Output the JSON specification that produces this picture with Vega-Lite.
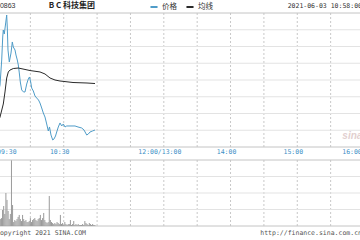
{
  "$schema": "https://vega.github.io/schema/vega-lite/v6.json",
  "width": 360,
  "height": 240,
  "autosize": {"type": "none"},
  "padding": 0,
  "background": "white",
  "config": {
    "view": {"stroke": null},
    "axis": {"labels": false, "ticks": false, "domain": false, "grid": false, "title": null},
    "legend": {"orient": "none", "legendX": 149, "legendY": 2, "direction": "horizontal", "padding": 0, "symbolType": "stroke", "symbolSize": 50, "symbolStrokeWidth": 2, "labelFont": "Noto Sans CJK SC", "labelFontSize": 7.5, "labelColor": "#333", "columnPadding": 5, "labelOffset": 3, "title": null}
  },
  "datasets": {
    "price": [
      {"t": 0, "p": 18.185, "s": "价格"}, {"t": 2.7, "p": 18.34, "s": "价格"}, {"t": 4.23, "p": 18.639, "s": "价格"},
      {"t": 5.13, "p": 18.913, "s": "价格"}, {"t": 5.66, "p": 18.997, "s": "价格"}, {"t": 6.56, "p": 18.949, "s": "价格"},
      {"t": 7.82, "p": 19.081, "s": "价格"}, {"t": 8.72, "p": 19.176, "s": "价格"}, {"t": 9.26, "p": 19.021, "s": "价格"},
      {"t": 9.89, "p": 18.758, "s": "价格"}, {"t": 11.06, "p": 18.615, "s": "价格"}, {"t": 12.59, "p": 18.722, "s": "价格"},
      {"t": 13.76, "p": 18.854, "s": "价格"}, {"t": 14.66, "p": 18.794, "s": "价格"}, {"t": 16.19, "p": 18.758, "s": "价格"},
      {"t": 17.08, "p": 18.698, "s": "价格"}, {"t": 18.25, "p": 18.639, "s": "价格"}, {"t": 19.15, "p": 18.579, "s": "价格"},
      {"t": 20.05, "p": 18.484, "s": "价格"}, {"t": 20.95, "p": 18.376, "s": "价格"}, {"t": 22.21, "p": 18.281, "s": "价格"},
      {"t": 23.83, "p": 18.257, "s": "价格"}, {"t": 25.18, "p": 18.257, "s": "价格"}, {"t": 26.71, "p": 18.352, "s": "价格"},
      {"t": 28.14, "p": 18.412, "s": "价格"}, {"t": 29.22, "p": 18.436, "s": "价格"}, {"t": 30.3, "p": 18.376, "s": "价格"},
      {"t": 31.2, "p": 18.304, "s": "价格"}, {"t": 32.64, "p": 18.269, "s": "价格"}, {"t": 34.17, "p": 18.209, "s": "价格"},
      {"t": 35.7, "p": 18.185, "s": "价格"}, {"t": 37.32, "p": 18.161, "s": "价格"}, {"t": 38.66, "p": 18.125, "s": "价格"},
      {"t": 40.19, "p": 18.066, "s": "价格"}, {"t": 41.63, "p": 18.006, "s": "价格"}, {"t": 43.16, "p": 17.958, "s": "价格"},
      {"t": 44.69, "p": 17.875, "s": "价格"}, {"t": 46.13, "p": 17.791, "s": "价格"}, {"t": 47.21, "p": 17.839, "s": "价格"},
      {"t": 48.56, "p": 17.743, "s": "价格"}, {"t": 50.09, "p": 17.684, "s": "价格"}, {"t": 51.26, "p": 17.696, "s": "价格"},
      {"t": 52.61, "p": 17.731, "s": "价格"}, {"t": 53.69, "p": 17.779, "s": "价格"}, {"t": 55.12, "p": 17.839, "s": "价格"},
      {"t": 56.65, "p": 17.887, "s": "价格"}, {"t": 58.18, "p": 17.851, "s": "价格"}, {"t": 59.62, "p": 17.875, "s": "价格"},
      {"t": 61.15, "p": 17.839, "s": "价格"}, {"t": 62.68, "p": 17.851, "s": "价格"}, {"t": 64.75, "p": 17.851, "s": "价格"},
      {"t": 67.45, "p": 17.851, "s": "价格"}, {"t": 70.14, "p": 17.851, "s": "价格"}, {"t": 72.84, "p": 17.839, "s": "价格"},
      {"t": 76.16, "p": 17.827, "s": "价格"}, {"t": 78.23, "p": 17.803, "s": "价格"}, {"t": 80.66, "p": 17.743, "s": "价格"},
      {"t": 82.1, "p": 17.755, "s": "价格"}, {"t": 83.63, "p": 17.779, "s": "价格"}, {"t": 85.87, "p": 17.791, "s": "价格"},
      {"t": 88.12, "p": 17.803, "s": "价格"},
      {"t": 0, "p": 17.863, "s": "均线"}, {"t": 2.7, "p": 17.958, "s": "均线"}, {"t": 5.66, "p": 18.113, "s": "均线"},
      {"t": 7.19, "p": 18.257, "s": "均线"}, {"t": 8.72, "p": 18.424, "s": "均线"}, {"t": 10.16, "p": 18.496, "s": "均线"},
      {"t": 11.69, "p": 18.519, "s": "均线"}, {"t": 14.66, "p": 18.537, "s": "均线"}, {"t": 19.15, "p": 18.543, "s": "均线"},
      {"t": 23.38, "p": 18.531, "s": "均线"}, {"t": 29.67, "p": 18.513, "s": "均线"}, {"t": 38.66, "p": 18.496, "s": "均线"},
      {"t": 43.16, "p": 18.472, "s": "均线"}, {"t": 47.66, "p": 18.424, "s": "均线"}, {"t": 52.16, "p": 18.4, "s": "均线"},
      {"t": 56.65, "p": 18.388, "s": "均线"}, {"t": 68.34, "p": 18.37, "s": "均线"}, {"t": 80.93, "p": 18.364, "s": "均线"},
      {"t": 88.12, "p": 18.358, "s": "均线"}
    ],
    "vol": [
      {"t": 0, "v": 158}, {"t": 1, "v": 97}, {"t": 2, "v": 67}, {"t": 3, "v": 42}, {"t": 4, "v": 48}, {"t": 5, "v": 97},
      {"t": 6, "v": 121}, {"t": 7, "v": 73}, {"t": 8, "v": 200}, {"t": 9, "v": 158}, {"t": 10, "v": 91}, {"t": 11, "v": 42},
      {"t": 12, "v": 73}, {"t": 13, "v": 398}, {"t": 14, "v": 127}, {"t": 15, "v": 24}, {"t": 16, "v": 36}, {"t": 17, "v": 30},
      {"t": 18, "v": 42}, {"t": 19, "v": 55}, {"t": 20, "v": 67}, {"t": 21, "v": 42}, {"t": 22, "v": 30}, {"t": 23, "v": 67},
      {"t": 24, "v": 42}, {"t": 25, "v": 30}, {"t": 26, "v": 36}, {"t": 27, "v": 24}, {"t": 28, "v": 24}, {"t": 29, "v": 30},
      {"t": 30, "v": 48}, {"t": 31, "v": 24}, {"t": 32, "v": 36}, {"t": 33, "v": 42}, {"t": 34, "v": 48}, {"t": 35, "v": 36},
      {"t": 36, "v": 30}, {"t": 37, "v": 42}, {"t": 38, "v": 48}, {"t": 39, "v": 67}, {"t": 40, "v": 36}, {"t": 41, "v": 48},
      {"t": 42, "v": 79}, {"t": 43, "v": 36}, {"t": 44, "v": 24}, {"t": 45, "v": 18}, {"t": 46, "v": 24}, {"t": 47, "v": 182},
      {"t": 48, "v": 36}, {"t": 49, "v": 24}, {"t": 50, "v": 18}, {"t": 51, "v": 12}, {"t": 52, "v": 18}, {"t": 53, "v": 12},
      {"t": 54, "v": 24}, {"t": 55, "v": 18}, {"t": 56, "v": 12}, {"t": 57, "v": 67}, {"t": 58, "v": 12}, {"t": 59, "v": 18},
      {"t": 60, "v": 6}, {"t": 61, "v": 24}, {"t": 62, "v": 12}, {"t": 63, "v": 6}, {"t": 64, "v": 12}, {"t": 65, "v": 12},
      {"t": 66, "v": 36}, {"t": 67, "v": 6}, {"t": 68, "v": 12}, {"t": 69, "v": 30}, {"t": 70, "v": 6}, {"t": 71, "v": 12},
      {"t": 72, "v": 6}, {"t": 73, "v": 12}, {"t": 74, "v": 6}, {"t": 75, "v": 6}, {"t": 76, "v": 6}, {"t": 77, "v": 12},
      {"t": 78, "v": 6}, {"t": 79, "v": 30}, {"t": 80, "v": 18}, {"t": 81, "v": 12}, {"t": 82, "v": 6}, {"t": 83, "v": 18},
      {"t": 84, "v": 12}, {"t": 85, "v": 6}, {"t": 86, "v": 12}, {"t": 87, "v": 6}, {"t": 88, "v": 6}
    ],
    "vgrid": [
      {"t": 30}, {"t": 60}, {"t": 90}, {"t": 120}, {"t": 150}, {"t": 180}, {"t": 210}, {"t": 240}, {"t": 270}, {"t": 300}
    ],
    "hlines": [
      {"p": 17.6, "kind": "border"}, {"p": 19.2, "kind": "border"},
      {"p": 17.8, "kind": "grid"}, {"p": 18.0, "kind": "grid"}, {"p": 18.2, "kind": "grid"}, {"p": 18.4, "kind": "grid"},
      {"p": 18.6, "kind": "grid"}, {"p": 18.8, "kind": "grid"}, {"p": 19.0, "kind": "grid"}
    ],
    "vlines": [
      {"v": 0, "kind": "bottom"}, {"v": 400, "kind": "border"},
      {"v": 100, "kind": "grid"}, {"v": 200, "kind": "grid"}, {"v": 300, "kind": "grid"}
    ],
    "xlab": [
      {"t": 60, "l": "10:30"}, {"t": 150, "l": "12:00/13:00"}, {"t": 210, "l": "14:00"}, {"t": 270, "l": "15:00"}
    ],
    "one": [{"k": 1}]
  },
  "layer": [
    {
      "layer": [
        {
          "data": {"name": "vgrid"},
          "mark": {"type": "rule", "color": "#c8c8c8", "strokeDash": [2, 2], "strokeWidth": 1},
          "encoding": {
            "x": {"field": "t", "type": "quantitative", "scale": {"domain": [0, 330], "range": [-3, 364], "nice": false, "zero": false}, "axis": null},
            "y": {"datum": 17.6, "type": "quantitative", "scale": {"domain": [17.6, 19.2], "range": [147, 13], "nice": false, "zero": false}, "axis": null},
            "y2": {"datum": 19.2}
          }
        },
        {
          "data": {"name": "hlines"},
          "mark": {"type": "rule", "strokeWidth": 1},
          "encoding": {
            "x": {"datum": 0, "type": "quantitative", "scale": {"domain": [0, 330], "range": [-3, 364], "nice": false, "zero": false}, "axis": null},
            "x2": {"datum": 330},
            "y": {"field": "p", "type": "quantitative", "scale": {"domain": [17.6, 19.2], "range": [147, 13], "nice": false, "zero": false}, "axis": null},
            "stroke": {"field": "kind", "type": "nominal", "scale": {"domain": ["border", "grid"], "range": ["#c4c4c4", "#e3e3e3"]}, "legend": null}
          }
        },
        {
          "data": {"name": "price"},
          "mark": {"type": "line", "strokeWidth": 1, "interpolate": "linear"},
          "encoding": {
            "x": {"field": "t", "type": "quantitative", "scale": {"domain": [0, 330], "range": [-3, 364], "nice": false, "zero": false}, "axis": null},
            "y": {"field": "p", "type": "quantitative", "scale": {"domain": [17.6, 19.2], "range": [147, 13], "nice": false, "zero": false}, "axis": null},
            "color": {"field": "s", "type": "nominal", "scale": {"domain": ["价格", "均线"], "range": ["#4f9cc8", "#2a2a2a"]}, "legend": {}}
          }
        },
        {
          "data": {"name": "xlab"},
          "mark": {"type": "text", "align": "center", "baseline": "middle", "dx": -4, "font": "DejaVu Sans Mono", "fontSize": 6.5, "color": "#3d8fc6"},
          "encoding": {
            "x": {"field": "t", "type": "quantitative", "scale": {"domain": [0, 330], "range": [-3, 364], "nice": false, "zero": false}, "axis": null},
            "y": {"datum": 17.545, "type": "quantitative", "scale": {"domain": [17.6, 19.2], "range": [147, 13], "nice": false, "zero": false}, "axis": null},
            "text": {"field": "l"}
          }
        },
        {
          "data": {"name": "one"},
          "mark": {"type": "text", "text": "09:30", "align": "left", "baseline": "middle", "font": "DejaVu Sans Mono", "fontSize": 6.5, "color": "#3d8fc6"},
          "encoding": {
            "x": {"datum": 0, "type": "quantitative", "scale": {"domain": [0, 330], "range": [-3, 364], "nice": false, "zero": false}, "axis": null},
            "y": {"datum": 17.545, "type": "quantitative", "scale": {"domain": [17.6, 19.2], "range": [147, 13], "nice": false, "zero": false}, "axis": null}
          }
        },
        {
          "data": {"name": "one"},
          "mark": {"type": "text", "text": "16:00", "align": "center", "baseline": "middle", "dx": -12, "font": "DejaVu Sans Mono", "fontSize": 6.5, "color": "#3d8fc6"},
          "encoding": {
            "x": {"datum": 330, "type": "quantitative", "scale": {"domain": [0, 330], "range": [-3, 364], "nice": false, "zero": false}, "axis": null},
            "y": {"datum": 17.545, "type": "quantitative", "scale": {"domain": [17.6, 19.2], "range": [147, 13], "nice": false, "zero": false}, "axis": null}
          }
        },
        {
          "data": {"name": "one"},
          "mark": {"type": "text", "text": "00863", "align": "left", "baseline": "middle", "font": "Liberation Sans", "fontSize": 7, "color": "#333"},
          "encoding": {
            "x": {"datum": -0.9, "type": "quantitative", "scale": {"domain": [0, 330], "range": [-3, 364], "nice": false, "zero": false}, "axis": null},
            "y": {"datum": 19.278, "type": "quantitative", "scale": {"domain": [17.6, 19.2], "range": [147, 13], "nice": false, "zero": false}, "axis": null}
          }
        },
        {
          "data": {"name": "one"},
          "mark": {"type": "text", "text": "B C 科技集团", "align": "left", "baseline": "middle", "font": "Noto Sans CJK SC", "fontWeight": "bold", "fontSize": 8, "color": "#222"},
          "encoding": {
            "x": {"datum": 46.5, "type": "quantitative", "scale": {"domain": [0, 330], "range": [-3, 364], "nice": false, "zero": false}, "axis": null},
            "y": {"datum": 19.278, "type": "quantitative", "scale": {"domain": [17.6, 19.2], "range": [147, 13], "nice": false, "zero": false}, "axis": null}
          }
        },
        {
          "data": {"name": "one"},
          "mark": {"type": "text", "text": "2021-06-03 10:58:00", "align": "right", "baseline": "middle", "font": "DejaVu Sans Mono", "fontSize": 6.5, "color": "#333"},
          "encoding": {
            "x": {"datum": 328.2, "type": "quantitative", "scale": {"domain": [0, 330], "range": [-3, 364], "nice": false, "zero": false}, "axis": null},
            "y": {"datum": 19.278, "type": "quantitative", "scale": {"domain": [17.6, 19.2], "range": [147, 13], "nice": false, "zero": false}, "axis": null}
          }
        },
        {
          "data": {"name": "one"},
          "mark": {"type": "text", "text": "sina", "align": "center", "baseline": "middle", "font": "Liberation Sans", "fontStyle": "italic", "fontWeight": "bold", "fontSize": 10, "color": "#e2cfcf"},
          "encoding": {
            "x": {"datum": 319.5, "type": "quantitative", "scale": {"domain": [0, 330], "range": [-3, 364], "nice": false, "zero": false}, "axis": null},
            "y": {"datum": 17.731, "type": "quantitative", "scale": {"domain": [17.6, 19.2], "range": [147, 13], "nice": false, "zero": false}, "axis": null}
          }
        }
      ]
    },
    {
      "layer": [
        {
          "data": {"name": "vgrid"},
          "mark": {"type": "rule", "color": "#c8c8c8", "strokeDash": [2, 2], "strokeWidth": 1},
          "encoding": {
            "x": {"field": "t", "type": "quantitative", "scale": {"domain": [0, 330], "range": [-3, 364], "nice": false, "zero": false}, "axis": null},
            "y": {"datum": 0, "type": "quantitative", "scale": {"domain": [0, 400], "range": [226, 160], "nice": false, "zero": false}, "axis": null},
            "y2": {"datum": 400}
          }
        },
        {
          "data": {"name": "vlines"},
          "mark": {"type": "rule", "strokeWidth": 1},
          "encoding": {
            "x": {"datum": 0, "type": "quantitative", "scale": {"domain": [0, 330], "range": [-3, 364], "nice": false, "zero": false}, "axis": null},
            "x2": {"datum": 330},
            "y": {"field": "v", "type": "quantitative", "scale": {"domain": [0, 400], "range": [226, 160], "nice": false, "zero": false}, "axis": null},
            "stroke": {"field": "kind", "type": "nominal", "scale": {"domain": ["bottom", "border", "grid"], "range": ["#aaaaaa", "#c4c4c4", "#e3e3e3"]}, "legend": null}
          }
        },
        {
          "data": {"name": "vol"},
          "mark": {"type": "rule", "color": "#9a9a9a", "strokeWidth": 1},
          "encoding": {
            "x": {"field": "t", "type": "quantitative", "scale": {"domain": [0, 330], "range": [-3, 364], "nice": false, "zero": false}, "axis": null},
            "y": {"field": "v", "type": "quantitative", "scale": {"domain": [0, 400], "range": [226, 160], "nice": false, "zero": false}, "axis": null},
            "y2": {"datum": 0}
          }
        },
        {
          "data": {"name": "one"},
          "mark": {"type": "text", "text": "Copyright 2021 SINA.COM", "align": "left", "baseline": "middle", "font": "DejaVu Sans Mono", "fontSize": 6.5, "color": "#555"},
          "encoding": {
            "x": {"datum": -0.9, "type": "quantitative", "scale": {"domain": [0, 330], "range": [-3, 364], "nice": false, "zero": false}, "axis": null},
            "y": {"datum": -42, "type": "quantitative", "scale": {"domain": [0, 400], "range": [226, 160], "nice": false, "zero": false}, "axis": null}
          }
        },
        {
          "data": {"name": "one"},
          "mark": {"type": "text", "text": "http://finance.sina.com.cn", "align": "right", "baseline": "middle", "font": "DejaVu Sans Mono", "fontSize": 6.5, "color": "#555"},
          "encoding": {
            "x": {"datum": 328.2, "type": "quantitative", "scale": {"domain": [0, 330], "range": [-3, 364], "nice": false, "zero": false}, "axis": null},
            "y": {"datum": -42, "type": "quantitative", "scale": {"domain": [0, 400], "range": [226, 160], "nice": false, "zero": false}, "axis": null}
          }
        }
      ]
    }
  ],
  "resolve": {"scale": {"y": "independent"}}
}
